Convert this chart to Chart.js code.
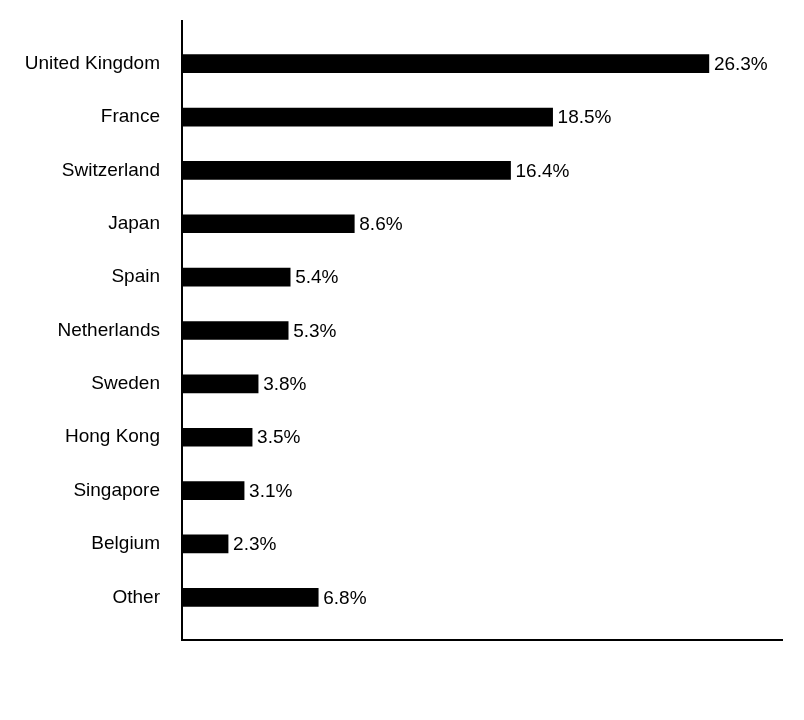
<!DOCTYPE html>
<html>
<head>
<meta charset="utf-8">
<script src="https://cdn.jsdelivr.net/npm/chart.js@4"></script>
<style>
  html, body { margin: 0; padding: 0; background: #fff; }
  #wrap { width: 804px; height: 720px; }
</style>
</head>
<body>
<div id="wrap"><canvas id="chart" width="804" height="720"></canvas></div>
<script>
const countries = ['United Kingdom', 'France', 'Switzerland', 'Japan', 'Spain', 'Netherlands',
  'Sweden', 'Hong Kong', 'Singapore', 'Belgium', 'Other'];
const weights = [26.3, 18.5, 16.4, 8.6, 5.4, 5.3, 3.8, 3.5, 3.1, 2.3, 6.8];
const axisMax = 30;

// axis lines reach past the bar area, plus value labels at the bar ends
const axesAndLabels = {
  id: 'axesAndLabels',
  afterDatasetsDraw(chart) {
    const { ctx, chartArea } = chart;
    ctx.save();
    ctx.strokeStyle = '#000';
    ctx.lineWidth = 2;
    ctx.beginPath();
    ctx.moveTo(chartArea.left, 20);
    ctx.lineTo(chartArea.left, 640);
    ctx.lineTo(chartArea.right, 640);
    ctx.stroke();

    ctx.fillStyle = '#000';
    ctx.font = '19px "Liberation Sans", Arial, sans-serif';
    ctx.textBaseline = 'middle';
    chart.getDatasetMeta(0).data.forEach((bar, i) => {
      ctx.fillText(weights[i].toFixed(1) + '%', bar.x + 5, bar.y + 1);
    });
    ctx.restore();
  }
};

new Chart(document.getElementById('chart'), {
  type: 'bar',
  data: {
    labels: countries,
    datasets: [{
      data: weights,
      backgroundColor: '#000',
      barThickness: 18
    }]
  },
  options: {
    indexAxis: 'y',
    responsive: false,
    animation: false,
    layout: { padding: { top: 37, bottom: 96, right: 21, left: 0 } },
    plugins: { legend: { display: false }, tooltip: { enabled: false } },
    scales: {
      x: { display: false, min: 0, max: axisMax },
      y: {
        grid: { display: false, drawTicks: false },
        border: { display: false },
        ticks: {
          color: '#000',
          padding: 22,
          font: { family: '"Liberation Sans", Arial, sans-serif', size: 19 }
        },
        afterFit(scale) { scale.width = 182; }
      }
    }
  },
  plugins: [axesAndLabels]
});
</script>
</body>
</html>
